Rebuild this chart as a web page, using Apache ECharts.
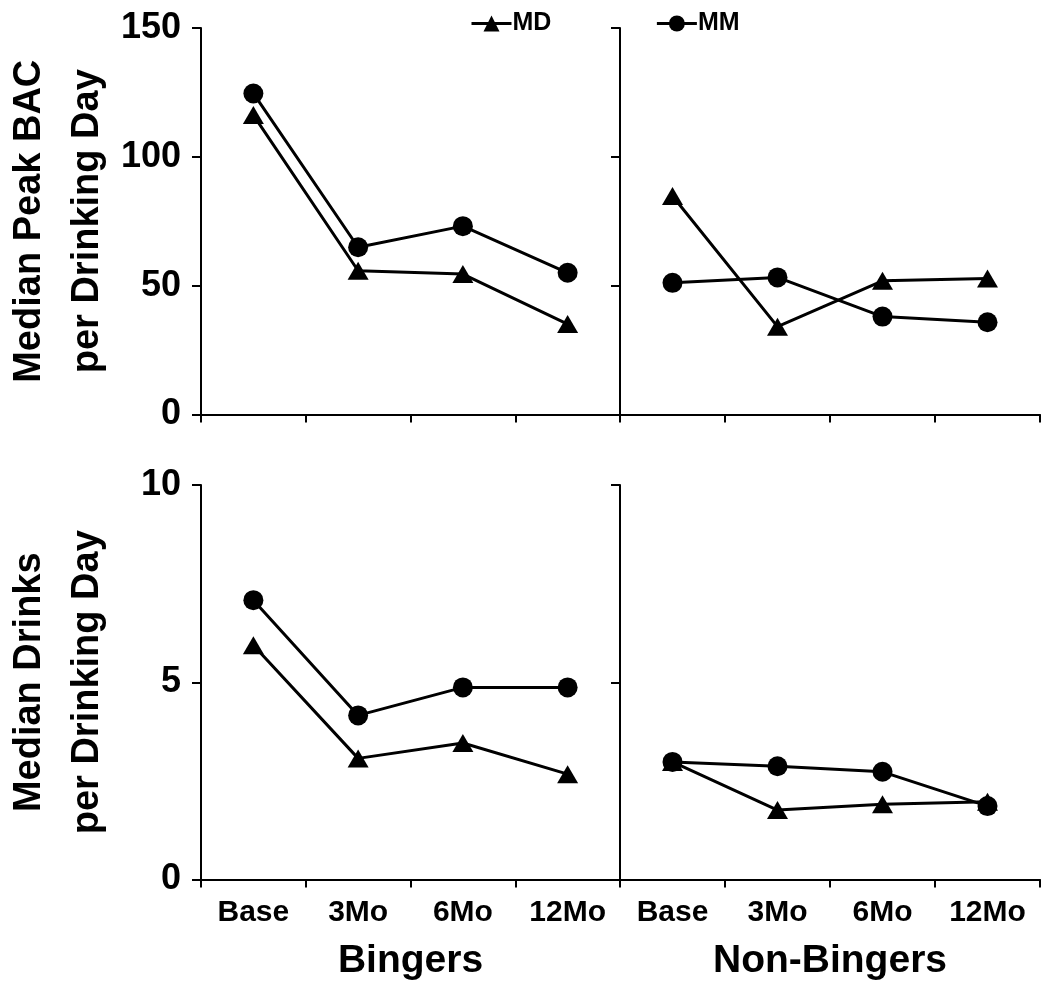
<!DOCTYPE html>
<html>
<head>
    <meta charset="utf-8">
    <script src="https://cdn.jsdelivr.net/npm/echarts@6/dist/echarts.min.js"></script>
    <style>
        html, body { margin: 0; padding: 0; background: #fff; }
        #main { width: 1050px; height: 996px; }
    </style>
</head>
<body>
<div id="main"></div>
<script type="text/javascript">
    // time points
    var months = ['Base', '3Mo', '6Mo', '12Mo'];

    // median peak BAC per drinking day
    var bacBingersMD = [116.2, 55.8, 54.5, 35.1];
    var bacBingersMM = [124.6, 64.9, 73.1, 55.0];
    var bacNonMD = [84.8, 34.1, 51.9, 52.8];
    var bacNonMM = [51.1, 53.2, 38.0, 35.8];

    // median drinks per drinking day
    var drinksBingersMD = [5.94, 3.07, 3.46, 2.67];
    var drinksBingersMM = [7.08, 4.16, 4.87, 4.87];
    var drinksNonMD = [2.98, 1.76, 1.91, 1.97];
    var drinksNonMM = [2.98, 2.87, 2.73, 1.86];

    var black = '#000';
    var arialBold = "'Liberation Sans', Arial, sans-serif";
    var narrow = "'Liberation Sans Narrow', 'Liberation Sans', sans-serif";

    var myChart = echarts.init(document.getElementById('main'));

    function xAxisOpt(idx, showLabels, name) {
        return {
            type: 'category',
            gridIndex: idx,
            data: months,
            boundaryGap: true,
            axisLine: { lineStyle: { color: black, width: 2 } },
            axisTick: { show: true, interval: 0, length: 8, lineStyle: { color: black, width: 2 } },
            axisLabel: {
                show: showLabels,
                interval: 0,
                color: black,
                fontFamily: narrow,
                fontWeight: 'bold',
                fontSize: 30,
                margin: 18
            },
            name: name || '',
            nameLocation: 'middle',
            nameGap: 62,
            nameTextStyle: {
                color: black,
                fontFamily: narrow,
                fontWeight: 'bold',
                fontSize: 39
            }
        };
    }

    function yAxisOpt(idx, max, interval, showLabels, name) {
        return {
            type: 'value',
            gridIndex: idx,
            min: 0,
            max: max,
            interval: interval,
            splitLine: { show: false },
            axisLine: { show: true, lineStyle: { color: black, width: 2 } },
            axisTick: { show: true, length: 9, lineStyle: { color: black, width: 2 } },
            axisLabel: {
                show: showLabels,
                color: black,
                fontFamily: arialBold,
                fontWeight: 'bold',
                fontSize: 36,
                margin: 20
            },
            name: name || '',
            nameLocation: 'middle',
            nameGap: 84,
            nameTextStyle: {
                color: black,
                fontFamily: arialBold,
                fontWeight: 'bold',
                fontSize: 38,
                lineHeight: 58
            }
        };
    }

    function lineSeries(name, xi, data, symbol) {
        return {
            name: name,
            type: 'line',
            xAxisIndex: xi,
            yAxisIndex: xi,
            data: data,
            symbol: symbol,
            symbolSize: symbol === 'triangle' ? [21, 18] : 20,
            lineStyle: { color: black, width: 3 },
            itemStyle: { color: black },
            z: symbol === 'circle' ? 3 : 2
        };
    }

    var opt = {
        animation: false,
        backgroundColor: '#fff',
        legend: {
            data: ['MD', 'MM'],
            left: 465,
            top: 6,
            itemWidth: 40,
            itemHeight: 20,
            itemGap: 104,
            lineStyle: { width: 3 },
            textStyle: {
                color: black,
                fontFamily: arialBold,
                fontWeight: 'bold',
                fontSize: 25,
                padding: [0, 0, 0, -4]
            }
        },
        grid: [
            { left: 200, top: 28, width: 420, height: 386.5 },
            { left: 620, top: 28, width: 420, height: 386.5 },
            { left: 200, top: 485, width: 420, height: 394.5 },
            { left: 620, top: 485, width: 420, height: 394.5 }
        ],
        xAxis: [
            xAxisOpt(0, false),
            xAxisOpt(1, false),
            xAxisOpt(2, true, 'Bingers'),
            xAxisOpt(3, true, 'Non-Bingers')
        ],
        yAxis: [
            yAxisOpt(0, 150, 50, true, 'Median Peak BAC\nper Drinking Day'),
            yAxisOpt(1, 150, 50, false),
            yAxisOpt(2, 10, 5, true, 'Median Drinks\nper Drinking Day'),
            yAxisOpt(3, 10, 5, false)
        ],
        series: [
            lineSeries('MD', 0, bacBingersMD, 'triangle'),
            lineSeries('MM', 0, bacBingersMM, 'circle'),
            lineSeries('MD', 1, bacNonMD, 'triangle'),
            lineSeries('MM', 1, bacNonMM, 'circle'),
            lineSeries('MD', 2, drinksBingersMD, 'triangle'),
            lineSeries('MM', 2, drinksBingersMM, 'circle'),
            lineSeries('MD', 3, drinksNonMD, 'triangle'),
            lineSeries('MM', 3, drinksNonMM, 'circle')
        ]
    };

    myChart.setOption(opt);
</script>
</body>
</html>
